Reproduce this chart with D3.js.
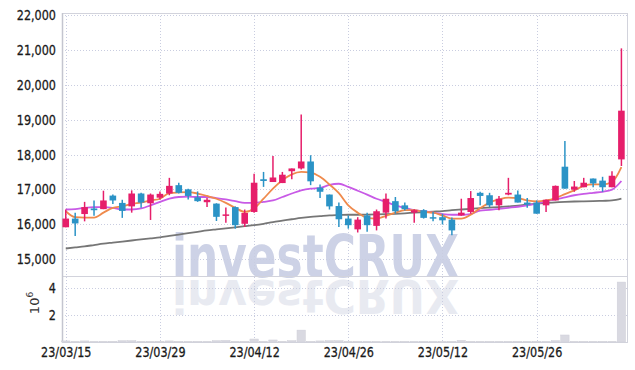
<!DOCTYPE html>
<html>
<head>
<meta charset="utf-8">
<script src="https://cdn.jsdelivr.net/npm/d3@7"></script>
<style>
  body { margin: 0; background: #fff; }
  svg { display: block; }
  .axis text { font-family: "DejaVu Sans", sans-serif; font-size: 14px; fill: #1a1a1a; }
</style>
</head>
<body>
<div id="chart"></div>
<script>
// trading days (yy/mm/dd)
const dates = ['23/03/15','23/03/16','23/03/17','23/03/20','23/03/21','23/03/22','23/03/23','23/03/24','23/03/27','23/03/28',
  '23/03/29','23/03/30','23/03/31','23/04/03','23/04/04','23/04/05','23/04/06','23/04/07','23/04/10','23/04/11',
  '23/04/12','23/04/13','23/04/14','23/04/17','23/04/18','23/04/19','23/04/20','23/04/21','23/04/24','23/04/25',
  '23/04/26','23/04/27','23/04/28','23/05/02','23/05/03','23/05/04','23/05/08','23/05/09','23/05/10','23/05/11',
  '23/05/12','23/05/15','23/05/16','23/05/17','23/05/18','23/05/19','23/05/22','23/05/23','23/05/24','23/05/25',
  '23/05/26','23/05/30','23/05/31','23/06/01','23/06/02','23/06/05','23/06/07','23/06/08','23/06/09','23/06/12'];

const open  = [15910,16160,16290,16450,16430,16820,16610,16510,16880,16600, 16760,16880,17120,17000,16770,16630,16590,16240,16490,16010,
  16350,17290,17210,17180,17520,17600,17800,17050,16850,16520, 16160,15850,16250,15950,16330,16660,16540,16330,16400,16200,
  16200,16130,16250,16350,16900,16830,16540,16850,16850,16620, 16620,16540,16680,17650,16990,17060,17310,17250,17060,17860];
const high  = [16420,16330,16640,16680,16960,16850,16700,16970,16900,16880, 16940,17330,17190,17020,16940,16750,16600,16480,16510,16420,
  17450,17500,17960,17500,17600,19150,17980,17140,16850,16620, 16250,16200,16330,16420,16880,16780,16620,16430,16430,16350,
  16300,16190,16730,16950,16930,16900,16810,17330,16970,16750, 16680,16710,17110,18390,17240,17330,17310,17360,17520,21050];
const low   = [15910,15660,16080,16240,16430,16580,16180,16330,16470,16120, 16710,16830,16880,16710,16640,16490,16090,16040,15870,15920,
  16330,17070,17210,17180,17290,17570,17120,16750,16420,15920, 15870,15760,15780,15820,16160,16300,16390,16040,16160,16080,
  15990,15680,16240,16300,16540,16490,16400,16830,16620,16470, 16300,16350,16680,17020,16930,17060,17060,16930,17060,17670];
const close = [16160,16020,16490,16400,16680,16680,16380,16880,16620,16850, 16870,17100,16900,16810,16660,16700,16210,16280,15970,16320,
  17190,17240,17340,17420,17600,17800,17230,16930,16510,16140, 15970,16130,15970,16370,16730,16370,16430,16400,16180,16160,
  16110,15820,16330,16750,16810,16540,16730,16900,16620,16560, 16300,16700,17100,17020,17080,17190,17170,17060,17390,19260];

// volume, in shares
const volume = [80000,30000,80000,30000,30000,30000,100000,100000,30000,30000, 30000,80000,30000,30000,30000,30000,100000,120000,30000,30000,
  220000,30000,150000,30000,100000,880000,30000,80000,100000,100000, 30000,30000,30000,30000,30000,30000,30000,30000,30000,30000,
  30000,30000,120000,30000,30000,30000,30000,30000,30000,30000, 30000,30000,100000,520000,30000,30000,30000,30000,30000,4440000];

// moving averages
const ma5  = [16370,16200,16190,16190,16330,16470,16510,16580,16620,16680, 16730,16890,16910,16920,16880,16810,16730,16610,16470,16350,
  16450,16730,17020,17260,17430,17500,17480,17360,17140,16890, 16540,16330,16180,16160,16240,16330,16400,16400,16350,16330,
  16250,16160,16160,16270,16460,16620,16710,16760,16750,16680, 16650,16680,16750,16860,16970,17100,17140,17140,17210,17640];
const ma20 = [16420,16430,16470,16490,16490,16470,16420,16420,16450,16540, 16640,16730,16780,16790,16780,16780,16750,16710,16660,16610,
  16610,16640,16680,16780,16880,16970,17020,17040,17130,17160, 17070,16960,16850,16730,16640,16540,16470,16400,16370,16330,
  16290,16270,16270,16290,16390,16410,16440,16470,16500,16540, 16590,16660,16710,16770,16830,16870,16900,16930,16990,17240];
const ma60 = [15300,15330,15360,15400,15440,15470,15500,15530,15560,15590, 15620,15660,15700,15740,15780,15820,15850,15880,15910,15940,
  15970,16010,16060,16100,16140,16180,16210,16230,16250,16260, 16270,16270,16275,16280,16285,16295,16310,16330,16345,16360,
  16375,16400,16420,16440,16460,16475,16490,16510,16530,16560, 16590,16610,16625,16640,16650,16655,16660,16670,16680,16730];

const priceTicks = [15000,16000,17000,18000,19000,20000,21000,22000];
const volTicks = [2e6, 4e6];
const dateTicks = [0,10,20,30,40,50];

const W = 635, H = 370;
const plotLeft = 62, plotRight = 628, plotTop = 13, plotSplit = 276, plotBottom = 342;

const svg = d3.select('#chart').append('svg')
    .attr('width', W)
    .attr('height', H);

const x = d3.scaleLinear().domain([-0.4, 59.7]).range([plotLeft, plotRight]);
const y = d3.scaleLinear().domain([14510, 22066]).range([plotSplit, plotTop]);
const yv = d3.scaleLinear().domain([0, 4.89e6]).range([plotBottom, plotSplit]);

const grid = '#c9cde0';

// watermark and its reflection
const wm = svg.append('g').attr('font-family', '"DejaVu Sans", sans-serif')
    .attr('font-weight', 'bold').attr('font-size', 58);
wm.append('text')
    .attr('x', 172).attr('y', 277)
    .attr('textLength', 287).attr('lengthAdjust', 'spacingAndGlyphs')
    .attr('fill', '#cdd2e6')
    .text('investCRUX');
wm.append('text')
    .attr('x', 172).attr('y', 277)
    .attr('textLength', 287).attr('lengthAdjust', 'spacingAndGlyphs')
    .attr('transform', 'translate(0,' + (280 + 277 * 0.8) + ') scale(1,-0.8)')
    .attr('fill', '#e8eaf1')
    .text('investCRUX');

// grid lines
const g = svg.append('g')
    .attr('stroke', grid)
    .attr('stroke-width', 1)
    .attr('stroke-dasharray', '1,2');
g.selectAll('.hp').data(priceTicks).enter().append('line')
    .attr('x1', plotLeft).attr('x2', plotRight)
    .attr('y1', d => Math.round(y(d)) + 0.5).attr('y2', d => Math.round(y(d)) + 0.5);
g.selectAll('.hv').data(volTicks).enter().append('line')
    .attr('x1', plotLeft).attr('x2', plotRight)
    .attr('y1', d => Math.round(yv(d)) + 0.5).attr('y2', d => Math.round(yv(d)) + 0.5);
g.selectAll('.v').data(dateTicks).enter().append('line')
    .attr('y1', plotTop).attr('y2', plotBottom)
    .attr('x1', d => Math.round(x(d)) + 0.5).attr('x2', d => Math.round(x(d)) + 0.5);

// frame
const frame = svg.append('g').attr('stroke', '#d2d3dc').attr('fill', 'none');
frame.append('line').attr('x1', plotLeft).attr('x2', plotRight).attr('y1', plotTop + 0.5).attr('y2', plotTop + 0.5);
frame.append('line').attr('x1', plotLeft).attr('x2', plotRight).attr('y1', plotSplit + 0.5).attr('y2', plotSplit + 0.5);
frame.append('line').attr('x1', plotLeft).attr('x2', plotRight).attr('y1', plotBottom + 0.5).attr('y2', plotBottom + 0.5);
frame.append('line').attr('x1', plotRight - 0.5).attr('x2', plotRight - 0.5).attr('y1', plotTop).attr('y2', plotBottom);
frame.append('line').attr('x1', plotLeft + 0.5).attr('x2', plotLeft + 0.5).attr('y1', plotTop).attr('y2', plotBottom)
    .attr('stroke', '#c4c5cf').attr('stroke-width', 1.5);

// volume bars
const idx = d3.range(dates.length);
svg.append('g').selectAll('rect').data(idx).enter().append('rect')
    .attr('x', i => x(i) - 4.2)
    .attr('width', 8.4)
    .attr('y', i => yv(volume[i]))
    .attr('height', i => plotBottom - yv(volume[i]))
    .attr('fill', '#d9d9e1')
    .attr('stroke', '#cfcfd8')
    .attr('stroke-width', 0.5);

// moving averages
const line = arr => d3.line().x((d, i) => x(i)).y(d => y(d)).curve(d3.curveMonotoneX)(arr);
svg.append('path').attr('d', line(ma60)).attr('fill', 'none').attr('stroke', '#767676').attr('stroke-width', 1.8);
svg.append('path').attr('d', line(ma20)).attr('fill', 'none').attr('stroke', '#c85ae6').attr('stroke-width', 1.8);
svg.append('path').attr('d', line(ma5)).attr('fill', 'none').attr('stroke', '#ef8a4c').attr('stroke-width', 1.8);

// candles
const up = '#e61e6a', down = '#2b93c6';
const candles = svg.append('g').selectAll('g').data(idx).enter().append('g');
candles.append('line')
    .attr('x1', i => x(i)).attr('x2', i => x(i))
    .attr('y1', i => y(high[i])).attr('y2', i => y(low[i]))
    .attr('stroke', i => close[i] >= open[i] ? up : down)
    .attr('stroke-width', 1.5);
candles.append('rect')
    .attr('x', i => x(i) - 3.3)
    .attr('width', 6.6)
    .attr('y', i => y(Math.max(open[i], close[i])))
    .attr('height', i => Math.max(1.5, Math.abs(y(open[i]) - y(close[i]))))
    .attr('fill', i => close[i] >= open[i] ? up : down);

// axes
const yAxis = svg.append('g').attr('class', 'axis')
    .attr('transform', 'translate(' + (plotLeft - 6) + ',0)')
    .call(d3.axisLeft(y).tickValues(priceTicks).tickFormat(d3.format(',')).tickSize(0).tickPadding(0));
yAxis.select('.domain').remove();

const vAxis = svg.append('g').attr('class', 'axis')
    .attr('transform', 'translate(' + (plotLeft - 6) + ',0)')
    .call(d3.axisLeft(yv).tickValues(volTicks).tickFormat(d => d / 1e6).tickSize(0).tickPadding(0));
vAxis.select('.domain').remove();

const xAxis = svg.append('g').attr('class', 'axis')
    .attr('transform', 'translate(0,' + (plotBottom + 2) + ')')
    .call(d3.axisBottom(x).tickValues(dateTicks).tickFormat(i => dates[i]).tickSize(0).tickPadding(3));
xAxis.select('.domain').remove();

// squeeze the labels to the narrow face of the original
svg.selectAll('.axis text')
    .attr('stroke', '#1a1a1a').attr('stroke-width', 0.3)
    .each(function() {
        const w = this.getComputedTextLength();
        d3.select(this).attr('textLength', w * 0.8).attr('lengthAdjust', 'spacingAndGlyphs');
    });

// volume unit
const unit = svg.append('text')
    .attr('transform', 'translate(39,303) rotate(-90)')
    .attr('text-anchor', 'middle')
    .attr('font-family', '"DejaVu Sans", sans-serif')
    .attr('font-size', 13)
    .attr('fill', '#333');
unit.append('tspan').text('10');
unit.append('tspan').attr('dy', -6).attr('font-size', 9).text('6');
</script>
</body>
</html>
